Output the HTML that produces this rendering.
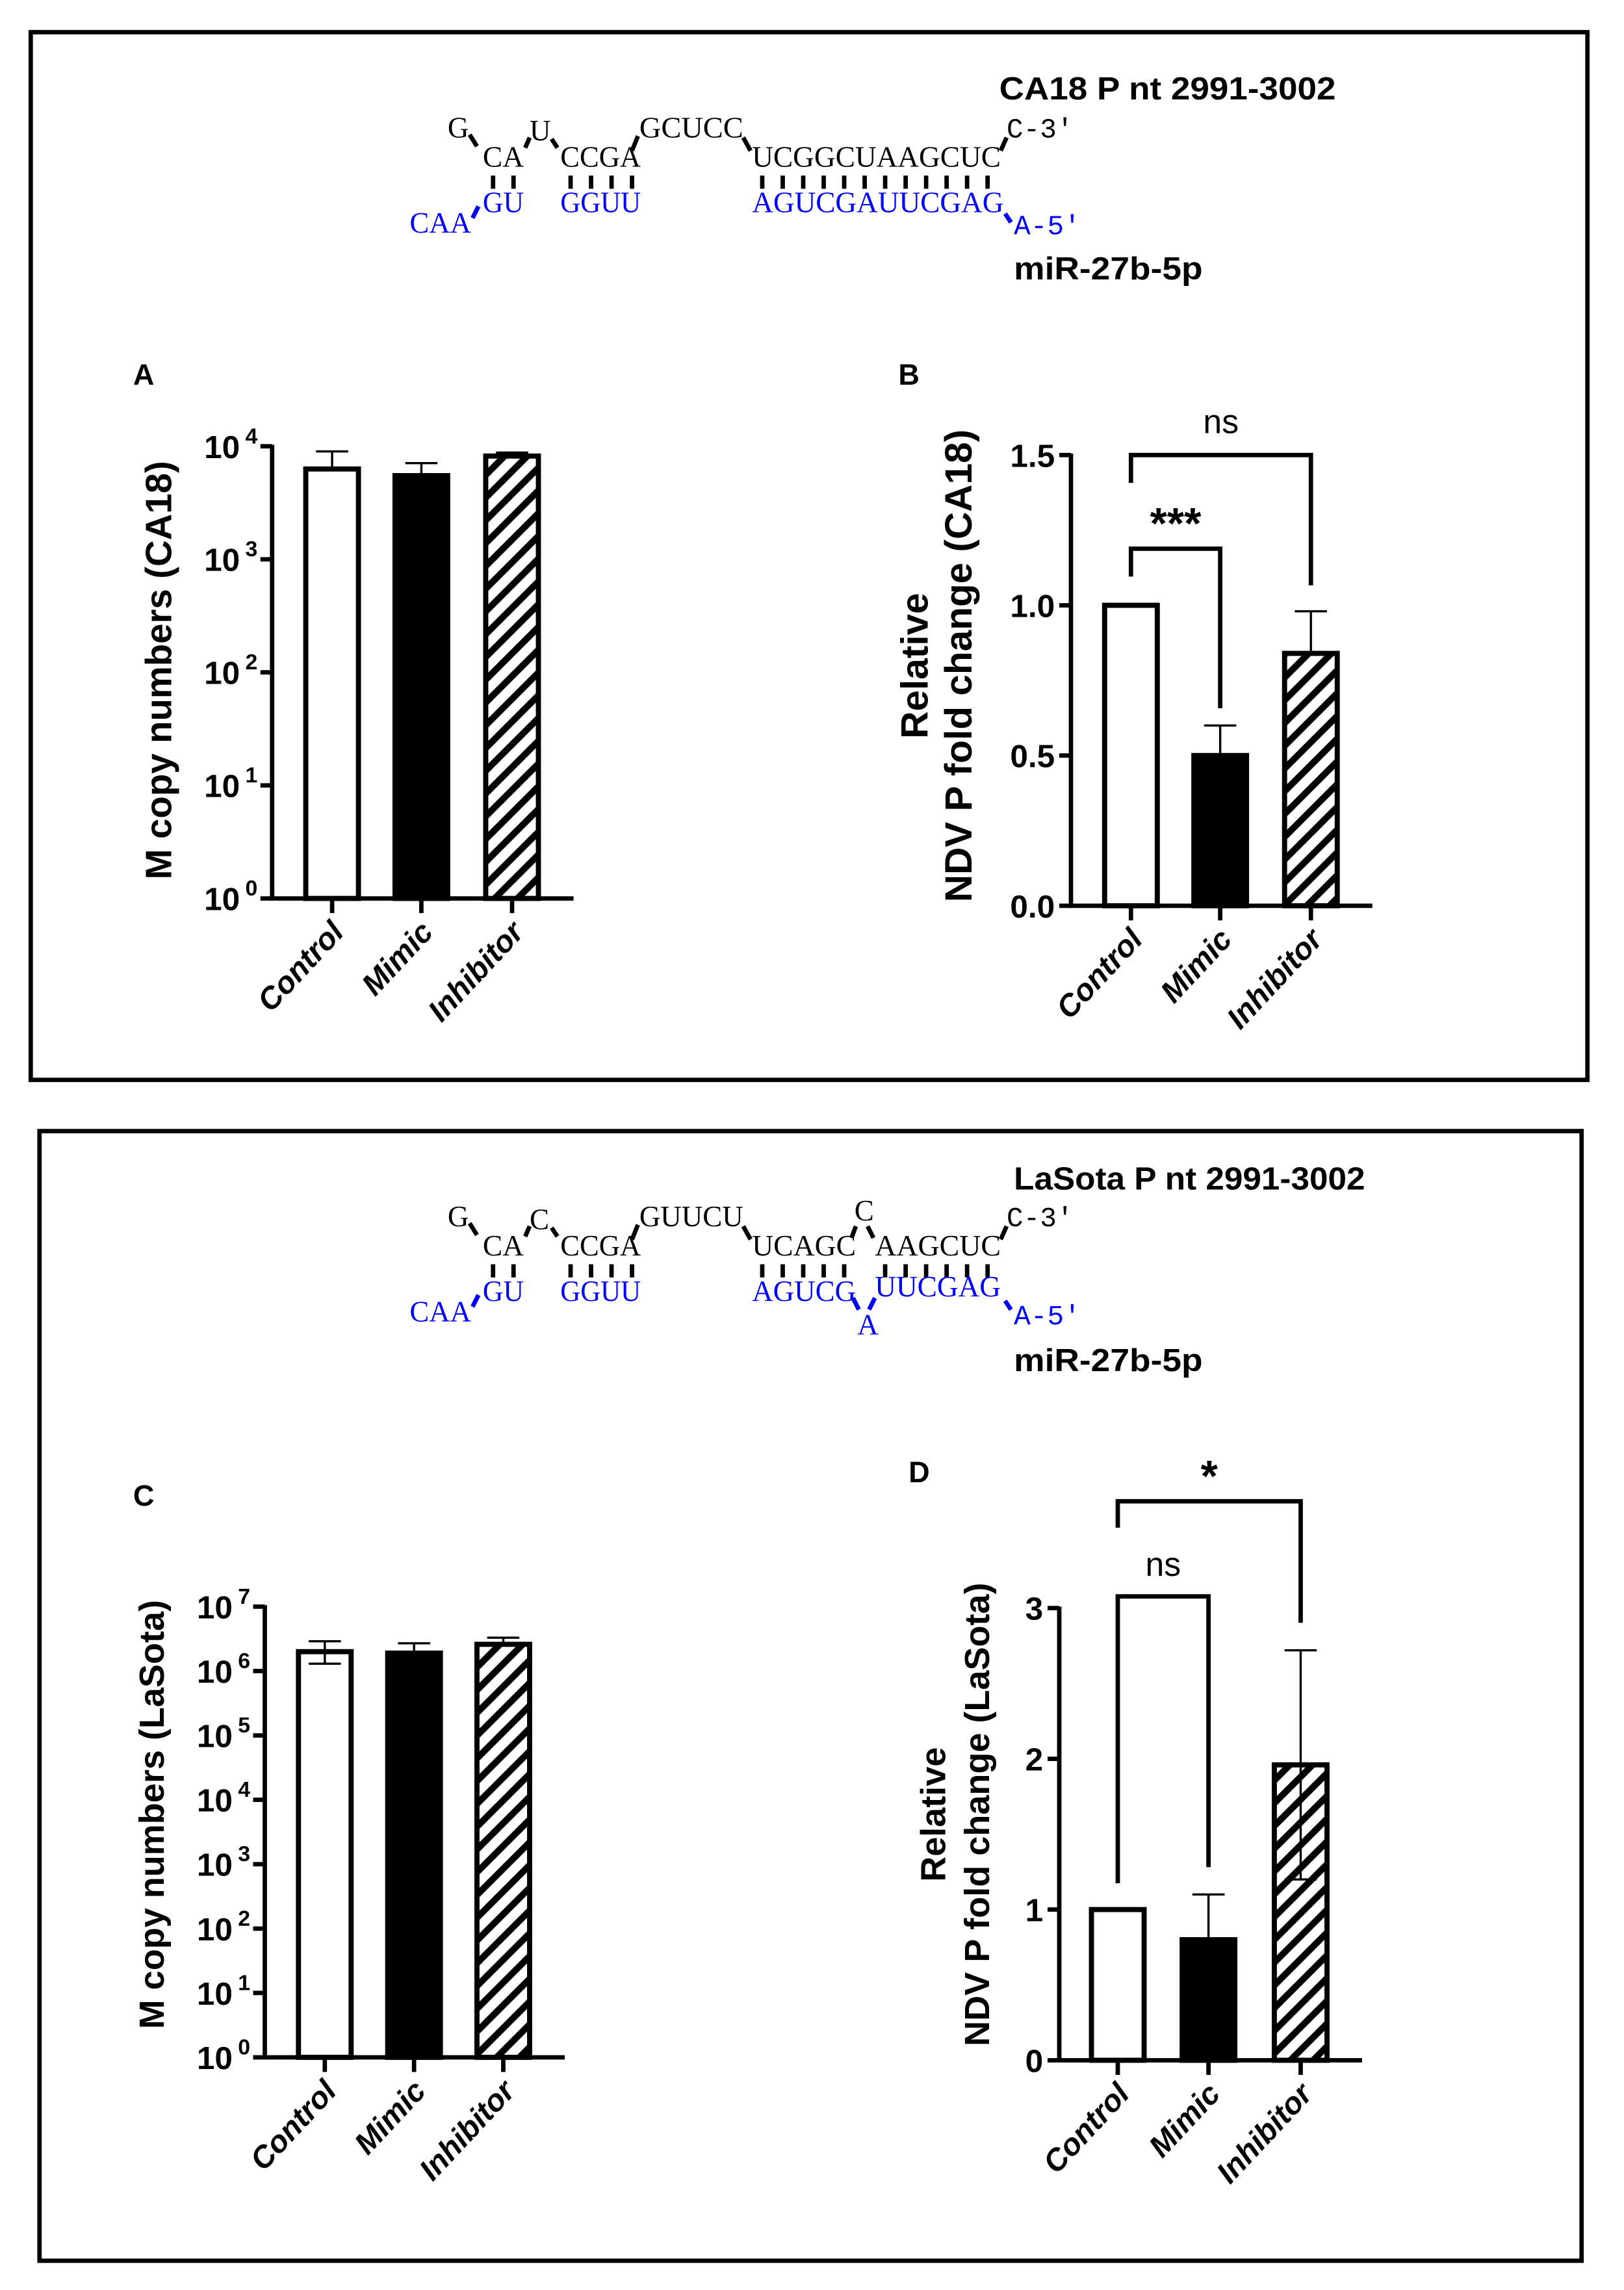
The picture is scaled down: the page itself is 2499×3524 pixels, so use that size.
<!DOCTYPE html>
<html><head><meta charset="utf-8">
<style>
html,body{margin:0;padding:0;background:#fff;}
svg{display:block;}
.nt{font-family:"Liberation Serif",serif;font-size:20px;}
.ntm{font-family:"Liberation Mono",monospace;font-size:19px;}
.lbl{font-family:"Liberation Sans",sans-serif;font-weight:bold;}
</style></head>
<body>
<svg id="fig" width="2499" height="3524" viewBox="0 0 1110 1565" preserveAspectRatio="none" xmlns="http://www.w3.org/2000/svg">
<defs>
<pattern id="hatch" patternUnits="userSpaceOnUse" width="11" height="11" patternTransform="rotate(45)">
<rect width="11" height="11" fill="#fff"/>
<rect x="0" y="0" width="4.5" height="11" fill="#000"/>
</pattern>
</defs>
<rect x="21" y="22" width="1064" height="716" fill="none" stroke="#000" stroke-width="3"/>
<rect x="27" y="773" width="1054" height="772" fill="none" stroke="#000" stroke-width="3"/>

<g>
<text class="lbl" x="683" y="68" font-size="22" textLength="230" lengthAdjust="spacingAndGlyphs">CA18 P nt 2991-3002</text>
<text class="nt" x="306" y="94">G</text>
<text class="nt" x="330" y="114" textLength="28" lengthAdjust="spacingAndGlyphs">CA</text>
<text class="nt" x="362" y="96">U</text>
<text class="nt" x="383" y="114" textLength="55" lengthAdjust="spacingAndGlyphs">CCGA</text>
<text class="nt" x="437" y="94" textLength="71" lengthAdjust="spacingAndGlyphs">GCUCC</text>
<text class="nt" x="514" y="114" textLength="170" lengthAdjust="spacingAndGlyphs">UCGGCUAAGCUC</text>
<text class="ntm" x="688" y="94">C-3'</text>
<g stroke="#000" stroke-width="3">
<line x1="321" y1="92" x2="326" y2="100"/><line x1="359" y1="101" x2="362" y2="94"/><line x1="377" y1="95" x2="381" y2="101"/><line x1="432" y1="103" x2="436" y2="93"/><line x1="508" y1="94" x2="513" y2="103"/><line x1="684" y1="103" x2="688" y2="94"/>
<line x1="337" y1="120" x2="337" y2="129"/><line x1="351" y1="120" x2="351" y2="129"/>
<line x1="390" y1="120" x2="390" y2="129"/><line x1="404" y1="120" x2="404" y2="129"/><line x1="418" y1="120" x2="418" y2="129"/><line x1="432" y1="120" x2="432" y2="129"/>
<line x1="521" y1="120" x2="521" y2="129"/><line x1="535" y1="120" x2="535" y2="129"/><line x1="549" y1="120" x2="549" y2="129"/><line x1="563" y1="120" x2="563" y2="129"/><line x1="577" y1="120" x2="577" y2="129"/><line x1="591" y1="120" x2="591" y2="129"/><line x1="605" y1="120" x2="605" y2="129"/><line x1="619" y1="120" x2="619" y2="129"/><line x1="633" y1="120" x2="633" y2="129"/><line x1="647" y1="120" x2="647" y2="129"/><line x1="661" y1="120" x2="661" y2="129"/><line x1="675" y1="120" x2="675" y2="129"/>
<line x1="323" y1="149" x2="327" y2="141" stroke="#00f"/><line x1="687" y1="146" x2="691" y2="152" stroke="#00f"/>
</g>
<g fill="#0000ff">
<text class="nt" x="330" y="145" textLength="28" lengthAdjust="spacingAndGlyphs">GU</text>
<text class="nt" x="383" y="145" textLength="55" lengthAdjust="spacingAndGlyphs">GGUU</text>
<text class="nt" x="514" y="145" textLength="172" lengthAdjust="spacingAndGlyphs">AGUCGAUUCGAG</text>
<text class="nt" x="280" y="159" textLength="42" lengthAdjust="spacingAndGlyphs">CAA</text>
<text class="ntm" x="693" y="160">A-5'</text>
</g>
<text class="lbl" x="693" y="191" font-size="22" textLength="129" lengthAdjust="spacingAndGlyphs">miR-27b-5p</text>
</g>

<g>
<text class="lbl" x="693" y="813" font-size="22" textLength="240" lengthAdjust="spacingAndGlyphs">LaSota P nt 2991-3002</text>
<text class="nt" x="306" y="838">G</text>
<text class="nt" x="330" y="858" textLength="28" lengthAdjust="spacingAndGlyphs">CA</text>
<text class="nt" x="362" y="840">C</text>
<text class="nt" x="383" y="858" textLength="55" lengthAdjust="spacingAndGlyphs">CCGA</text>
<text class="nt" x="437" y="838" textLength="71" lengthAdjust="spacingAndGlyphs">GUUCU</text>
<text class="nt" x="514" y="858" textLength="71" lengthAdjust="spacingAndGlyphs">UCAGC</text>
<text class="nt" x="584" y="834">C</text>
<text class="nt" x="598" y="858" textLength="86" lengthAdjust="spacingAndGlyphs">AAGCUC</text>
<text class="ntm" x="688" y="838">C-3'</text>
<g stroke="#000" stroke-width="3">
<line x1="321" y1="836" x2="326" y2="844"/><line x1="359" y1="845" x2="362" y2="838"/><line x1="377" y1="839" x2="381" y2="845"/><line x1="432" y1="847" x2="436" y2="837"/><line x1="508" y1="838" x2="513" y2="847"/><line x1="582" y1="846" x2="585" y2="838"/><line x1="593" y1="838" x2="597" y2="846"/><line x1="684" y1="847" x2="688" y2="838"/>
<line x1="337" y1="864" x2="337" y2="873"/><line x1="351" y1="864" x2="351" y2="873"/>
<line x1="390" y1="864" x2="390" y2="873"/><line x1="404" y1="864" x2="404" y2="873"/><line x1="418" y1="864" x2="418" y2="873"/><line x1="432" y1="864" x2="432" y2="873"/>
<line x1="521" y1="864" x2="521" y2="873"/><line x1="535" y1="864" x2="535" y2="873"/><line x1="549" y1="864" x2="549" y2="873"/><line x1="563" y1="864" x2="563" y2="873"/><line x1="577" y1="864" x2="577" y2="873"/>
<line x1="605" y1="864" x2="605" y2="873"/><line x1="619" y1="864" x2="619" y2="873"/><line x1="633" y1="864" x2="633" y2="873"/><line x1="647" y1="864" x2="647" y2="873"/><line x1="661" y1="864" x2="661" y2="873"/><line x1="675" y1="864" x2="675" y2="873"/>
</g>
<g stroke="#00f" stroke-width="3"><line x1="323" y1="893" x2="327" y2="885"/><line x1="583" y1="887" x2="587" y2="895"/><line x1="594" y1="895" x2="598" y2="887"/><line x1="687" y1="889" x2="691" y2="895"/></g>
<g fill="#0000ff">
<text class="nt" x="330" y="889" textLength="28" lengthAdjust="spacingAndGlyphs">GU</text>
<text class="nt" x="383" y="889" textLength="55" lengthAdjust="spacingAndGlyphs">GGUU</text>
<text class="nt" x="514" y="889" textLength="71" lengthAdjust="spacingAndGlyphs">AGUCG</text>
<text class="nt" x="586" y="912">A</text>
<text class="nt" x="598" y="886" textLength="86" lengthAdjust="spacingAndGlyphs">UUCGAG</text>
<text class="nt" x="280" y="903" textLength="42" lengthAdjust="spacingAndGlyphs">CAA</text>
<text class="ntm" x="693" y="905">A-5'</text>
</g>
<text class="lbl" x="693" y="937" font-size="22" textLength="129" lengthAdjust="spacingAndGlyphs">miR-27b-5p</text>
</g>

<text class="lbl" x="91" y="263" font-size="20">A</text>
<text class="lbl" x="614" y="263" font-size="20">B</text>
<text class="lbl" x="91" y="1029" font-size="20">C</text>
<text class="lbl" x="621" y="1013" font-size="20">D</text>
<g id="charts"></g>
</svg>
<script>
const categories = ["Control", "Mimic", "Inhibitor"];
// Panel A (log, copies)
const aValues = [6300, 5500, 8200];
const aErrUp = [9000, 7100, 8800];
const aErrLow = [null, null, null];
const aTicksExp = [0, 1, 2, 3, 4];
// Panel B (fold change)
const bValues = [1.0, 0.5, 0.84];
const bErrUp = [null, 0.6, 0.98];
const bTicks = ["0.0", "0.5", "1.0", "1.5"];
// Panel C (log, copies)
const cValues = [2000000, 1900000, 2600000];
const cErrUp = [2900000, 2700000, 3300000];
const cErrLow = [1300000, null, null];
const cTicksExp = [0, 1, 2, 3, 4, 5, 6, 7];
// Panel D (fold change)
const dValues = [1.0, 0.8, 1.96];
const dErrUp = [null, 1.1, 2.72];
const dErrLow = [null, null, 1.2];
const dTicks = ["0", "1", "2", "3"];

const NS = "http://www.w3.org/2000/svg";
const root = document.getElementById("charts");
function el(tag, attrs, parent) {
  const e = document.createElementNS(NS, tag);
  for (const k in attrs) e.setAttribute(k, attrs[k]);
  (parent || root).appendChild(e);
  return e;
}
const fills = ["#fff", "#000", "url(#hatch)"];

function drawChart(cfg) {
  const g = el("g", {});
  
  
  const yOf = cfg.yOf;
  const ya = el("line", {x1: cfg.x0, y1: cfg.yTop - 1, x2: cfg.x0, y2: cfg.yBot, stroke: "#000", "stroke-width": 3}, g);
  
  
  const xa = el("line", {x1: cfg.x0 - 1.5, y1: cfg.yBot, x2: cfg.x1, y2: cfg.yBot, stroke: "#000", "stroke-width": 3}, g);
  
  
  cfg.ticks.forEach(t => {
    const y = yOf(t.v);
    el("line", {x1: cfg.x0 - 8, y1: y, x2: cfg.x0, y2: y, stroke: "#000", "stroke-width": 3}, g);
    const tx = el("text", {x: cfg.x0 - 11, y: y + 8, "text-anchor": "end", class: "lbl", "font-size": 22}, g);
    
    
    if (t.exp !== undefined) {
      tx.setAttribute("x", cfg.x0 - 22);
      tx.textContent = "10";
      const sup = el("text", {x: cfg.x0 - 10, y: y - 2, "text-anchor": "end", class: "lbl", "font-size": 15}, g);
      sup.textContent = String(t.exp);
    } else tx.textContent = t.label;
  });
  categories.forEach((c, i) => {
    const cx = cfg.xs[i];
    const top = yOf(cfg.values[i]);
    if (cfg.errUp[i] != null) {
      const eu = yOf(cfg.errUp[i]);
      const e1 = el("line", {x1: cx, y1: eu, x2: cx, y2: top, stroke: "#000", "stroke-width": 1.5}, g);
      
      
      el("line", {x1: cx - 11, y1: eu, x2: cx + 11, y2: eu, stroke: "#000", "stroke-width": 1.5}, g);
    }
    const r = el("rect", {x: cx - 18, y: top, width: 36, height: cfg.yBot - top, fill: fills[i], stroke: "#000", "stroke-width": 3.5}, g);
    
    
    if (cfg.errLow && cfg.errLow[i] != null) {
      const el2 = yOf(cfg.errLow[i]);
      el("line", {x1: cx, y1: top, x2: cx, y2: el2, stroke: "#000", "stroke-width": 1.5}, g);
      el("line", {x1: cx - 11, y1: el2, x2: cx + 11, y2: el2, stroke: "#000", "stroke-width": 1.5}, g);
    }
    el("line", {x1: cx, y1: cfg.yBot, x2: cx, y2: cfg.yBot + 10, stroke: "#000", "stroke-width": 3}, g);
    const lab = el("text", {x: cx + 9, y: cfg.yBot + 24, "text-anchor": "end", class: "lbl", "font-size": 21, "font-style": "italic", transform: "rotate(-47 " + (cx + 9) + " " + (cfg.yBot + 24) + ")"}, g);
    
    
    lab.textContent = c;
  });
  cfg.title.forEach((t, k) => {
    const tx = el("text", {x: cfg.titleX[k], y: cfg.titleY, "text-anchor": "middle", class: "lbl", "font-size": cfg.titleFs, transform: "rotate(-90 " + cfg.titleX[k] + " " + cfg.titleY + ")"}, g);
    
    
    tx.textContent = t;
  });
  (cfg.brackets || []).forEach(b => {
    const p = el("path", {d: "M" + cfg.xs[b.a] + " " + b.la + " V" + b.y + " H" + cfg.xs[b.b] + " V" + b.lb, fill: "none", stroke: "#000", "stroke-width": 3}, g);
    
    
    const tx = el("text", {x: (cfg.xs[b.a] + cfg.xs[b.b]) / 2, y: b.ty, "text-anchor": "middle", "font-family": "Liberation Sans, sans-serif", "font-size": b.fs, "font-weight": b.bold ? "bold" : "normal"}, g);
    
    
    tx.textContent = b.label;
  });
}

(function(){
  const yBot = 614, yTop = 305, dec = (yBot - yTop) / 4;
  drawChart({name: "chart-a", x0: 186, x1: 392, yTop, yBot, xs: [227, 288, 350],
    yOf: v => yBot - Math.log10(v) * dec, values: aValues, errUp: aErrUp, errLow: aErrLow,
    ticks: aTicksExp.map(e => ({v: Math.pow(10, e), exp: e})),
    title: ["M copy numbers (CA18)"], titleX: [117], titleY: 458, titleFs: 25});
})();
(function(){
  const yBot = 619, yTop = 311, u = (yBot - yTop) / 1.5;
  drawChart({name: "chart-b", x0: 732, x1: 938, yTop, yBot, xs: [773, 834, 896],
    yOf: v => yBot - v * u, values: bValues, errUp: bErrUp, errLow: null,
    ticks: bTicks.map(t => ({v: parseFloat(t), label: t})),
    title: ["Relative", "NDV P fold change (CA18)"], titleX: [634, 664], titleY: 455, titleFs: 26,
    brackets: [
      {a: 0, b: 2, y: 311, la: 330, lb: 400, label: "ns", ty: 296, fs: 23},
      {a: 0, b: 1, y: 375, la: 394, lb: 484, label: "***", ty: 368, fs: 30, bold: true}
    ]});
})();
(function(){
  const yBot = 1406, yTop = 1098, dec = (yBot - yTop) / 7;
  drawChart({name: "chart-c", x0: 181, x1: 386, yTop, yBot, xs: [222, 283, 344],
    yOf: v => yBot - Math.log10(v) * dec, values: cValues, errUp: cErrUp, errLow: cErrLow,
    ticks: cTicksExp.map(e => ({v: Math.pow(10, e), exp: e})),
    title: ["M copy numbers (LaSota)"], titleX: [112], titleY: 1240, titleFs: 24});
})();
(function(){
  const yBot = 1408, yTop = 1099, u = (yBot - yTop) / 3;
  drawChart({name: "chart-d", x0: 724, x1: 931, yTop, yBot, xs: [764, 826, 889],
    yOf: v => yBot - v * u, values: dValues, errUp: dErrUp, errLow: dErrLow,
    ticks: dTicks.map(t => ({v: parseFloat(t), label: t})),
    title: ["Relative", "NDV P fold change (LaSota)"], titleX: [646, 676], titleY: 1240, titleFs: 24,
    brackets: [
      {a: 0, b: 1, y: 1091, la: 1287, lb: 1276, label: "ns", ty: 1077, fs: 23},
      {a: 0, b: 2, y: 1026, la: 1044, lb: 1109, label: "*", ty: 1019, fs: 30, bold: true}
    ]});
})();
</script>
</body></html>
